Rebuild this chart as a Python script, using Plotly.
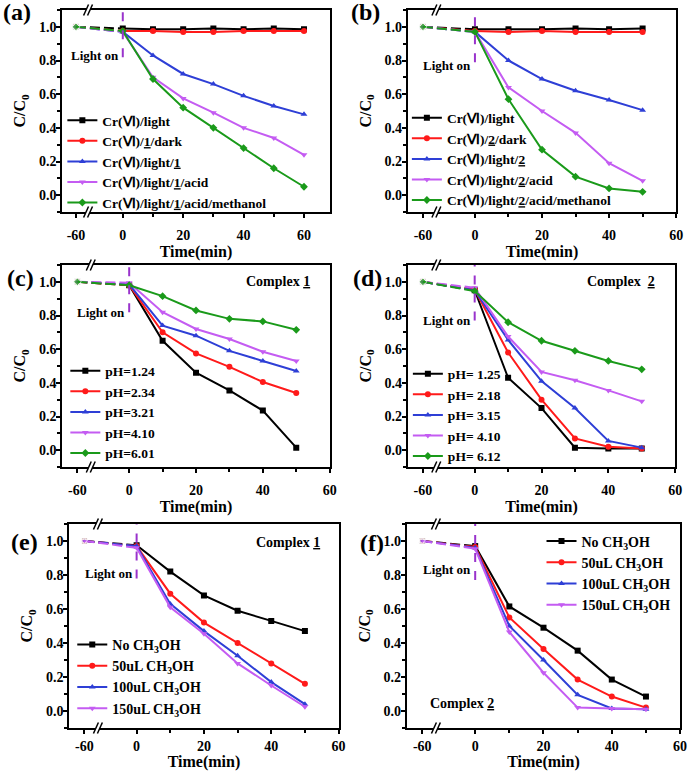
import plotly.graph_objects as go

W, H = 698, 771
FONT = "Liberation Serif, Times New Roman, serif"

# ---------------- data ----------------
TIME_A = [-60, 0, 10, 20, 30, 40, 50, 60]
TIME = [-60, 0, 10, 20, 30, 40, 50]
X_TICK_LABELS = ["-60", "0", "20", "40", "60"]

# (a) complex 1
A_LIGHT = [1.0, 0.99, 0.985, 0.985, 0.99, 0.985, 0.99, 0.985]
A_DARK = [1.0, 0.975, 0.975, 0.97, 0.97, 0.975, 0.975, 0.975]
A_LIGHT_CAT = [1.0, 0.97, 0.83, 0.72, 0.66, 0.59, 0.53, 0.48]
A_ACID = [1.0, 0.97, 0.70, 0.575, 0.49, 0.40, 0.34, 0.24]
A_METHANOL = [1.0, 0.975, 0.69, 0.52, 0.40, 0.28, 0.16, 0.05]
A_NAMES = ["Cr(Ⅵ)/light", "Cr(Ⅵ)/<u>1</u>/dark", "Cr(Ⅵ)/light/<u>1</u>",
           "Cr(Ⅵ)/light/<u>1</u>/acid", "Cr(Ⅵ)/light/<u>1</u>/acid/methanol"]

# (b) complex 2
B_LIGHT = [1.0, 0.985, 0.985, 0.985, 0.99, 0.985, 0.99]
B_DARK = [1.0, 0.975, 0.97, 0.975, 0.97, 0.97, 0.97]
B_LIGHT_CAT = [1.0, 0.97, 0.80, 0.69, 0.62, 0.565, 0.505]
B_ACID = [1.0, 0.97, 0.64, 0.50, 0.37, 0.19, 0.085]
B_METHANOL = [1.0, 0.97, 0.57, 0.27, 0.11, 0.04, 0.02]
B_NAMES = ["Cr(Ⅵ)/light", "Cr(Ⅵ)/<u>2</u>/dark", "Cr(Ⅵ)/light/<u>2</u>",
           "Cr(Ⅵ)/light/<u>2</u>/acid", "Cr(Ⅵ)/light/<u>2</u>/acid/methanol"]

# (c) complex 1, pH
C_PH124 = [1.0, 0.98, 0.65, 0.46, 0.355, 0.235, 0.015]
C_PH234 = [1.0, 0.98, 0.70, 0.575, 0.495, 0.405, 0.34]
C_PH321 = [1.0, 0.985, 0.74, 0.68, 0.59, 0.53, 0.47]
C_PH410 = [1.0, 0.995, 0.82, 0.72, 0.66, 0.585, 0.53]
C_PH601 = [1.0, 0.98, 0.915, 0.83, 0.78, 0.765, 0.715]
C_NAMES = ["pH=1.24", "pH=2.34", "pH=3.21", "pH=4.10", "pH=6.01"]

# (d) complex 2, pH
D_PH125 = [1.0, 0.95, 0.43, 0.25, 0.015, 0.01, 0.01]
D_PH218 = [1.0, 0.955, 0.58, 0.30, 0.07, 0.02, 0.01]
D_PH315 = [1.0, 0.95, 0.655, 0.41, 0.25, 0.055, 0.015]
D_PH410 = [1.0, 0.965, 0.675, 0.465, 0.415, 0.355, 0.29]
D_PH612 = [1.0, 0.945, 0.76, 0.65, 0.59, 0.53, 0.48]
D_NAMES = ["pH= 1.25", "pH= 2.18", "pH= 3.15", "pH= 4.10", "pH= 6.12"]

# (e) complex 1, methanol
E_NO = [1.0, 0.975, 0.82, 0.68, 0.59, 0.53, 0.47]
E_50 = [1.0, 0.97, 0.69, 0.52, 0.40, 0.28, 0.16]
E_100 = [1.0, 0.97, 0.63, 0.47, 0.325, 0.17, 0.04]
E_150 = [1.0, 0.96, 0.61, 0.455, 0.28, 0.15, 0.025]
E_NAMES = ["No CH<sub>3</sub>OH", "50uL CH<sub>3</sub>OH",
           "100uL CH<sub>3</sub>OH", "150uL CH<sub>3</sub>OH"]

# (f) complex 2, methanol
F_NO = [1.0, 0.97, 0.615, 0.49, 0.355, 0.185, 0.085]
F_50 = [1.0, 0.965, 0.55, 0.365, 0.185, 0.085, 0.02]
F_100 = [1.0, 0.96, 0.50, 0.30, 0.095, 0.015, 0.01]
F_150 = [1.0, 0.955, 0.465, 0.225, 0.02, 0.015, 0.01]
F_NAMES = E_NAMES

# ---------------- styles ----------------
COLORS = ["#000000", "#FF1A1A", "#2E3FD6", "#C45CF2", "#1A9A1A"]
SYMBOLS = ["square", "circle", "triangle-up", "triangle-down", "diamond"]
PURPLE = "#9933CC"

BREAK_POS = -15.5   # plotted position of t = -60 on the broken axis
BREAK_MARK = -11.5  # position of the // break symbol


def xpos(t):
    return t if t >= 0 else t * (-BREAK_POS) / 60.0


panels = [
    dict(label="(a)", t=TIME_A, series=[A_LIGHT, A_DARK, A_LIGHT_CAT, A_ACID, A_METHANOL], names=A_NAMES,
         box=(63, 10, 333, 212), xr=[-20, 68.5], leg=(63, 161.5, 13.5), light=0.83, vend=0.82,
         lab=(17, 12), complex=None, xso=5),
    dict(label="(b)", t=TIME, series=[B_LIGHT, B_DARK, B_LIGHT_CAT, B_ACID, B_METHANOL], names=B_NAMES,
         box=(412, 10, 683, 212), xr=[-20, 60], leg=(411, 159, 13.5), light=0.77, vend=0.79,
         lab=(369, 12), complex=None, xso=5),
    dict(label="(c)", t=TIME, series=[C_PH124, C_PH234, C_PH321, C_PH410, C_PH601], names=C_NAMES,
         box=(63, 265, 333, 467), xr=[-20, 60], leg=(66, 412, 13.5), light=0.82, vend=0.82,
         lab=(21, 278), complex=("Complex <u>1</u>", 0.935, 1.0, "right"), xso=5),
    dict(label="(d)", t=TIME, series=[D_PH125, D_PH218, D_PH315, D_PH410, D_PH612], names=D_NAMES,
         box=(412, 265, 682, 467), xr=[-20, 60], leg=(412, 415, 13.5), light=0.77, vend=0.77,
         lab=(371, 278), complex=("Complex  <u>2</u>", 0.933, 1.0, "right"), xso=5),
    dict(label="(e)", t=TIME, series=[E_NO, E_50, E_100, E_150], names=E_NAMES,
         box=(70, 524, 342, 728), xr=[-20, 60], leg=(73, 676.5, 14), light=0.81, vend=0.78,
         lab=(25, 542), complex=("Complex <u>1</u>", 0.938, 0.99, "right"), xso=0),
    dict(label="(f)", t=TIME, series=[F_NO, F_50, F_100, F_150], names=F_NAMES,
         box=(411, 524, 687, 728), xr=[-20, 60], leg=(547, 573, 14), light=0.83, vend=0.77,
         lab=(376, 543), complex=("Complex <u>2</u>", 0.076, 0.045, "left"), xso=0),
]

fig = go.Figure()
shapes = []
annotations = []
layout = {}

tickfont = dict(family=FONT, size=14, color="black", weight="bold")
titlefont = dict(family=FONT, size=16, color="black", weight="bold")

for i, p in enumerate(panels):
    n = i + 1
    sfx = "" if n == 1 else str(n)
    xr_, yr_ = "x" + sfx, "y" + sfx
    leg_key = "legend" + sfx
    l, t, r, b = p["box"]
    pw, ph = r - l, b - t

    for k, vals in enumerate(p["series"]):
        tt = p["t"]
        pre_x = [xpos(tt[0]), xpos(tt[1])]
        pre_y = [vals[0], vals[1]]
        fig.add_trace(go.Scatter(
            x=pre_x, y=pre_y, mode="lines+markers", xaxis=xr_, yaxis=yr_,
            line=dict(color=COLORS[k], width=2, dash="10px,4px"),
            marker=dict(symbol=SYMBOLS[k], size=[6, 0], color=COLORS[k]),
            showlegend=False, hoverinfo="skip"))
        fig.add_trace(go.Scatter(
            x=[xpos(v) for v in tt[1:]], y=vals[1:], mode="lines+markers",
            xaxis=xr_, yaxis=yr_, name=p["names"][k], legend=leg_key,
            line=dict(color=COLORS[k], width=2),
            marker=dict(symbol=SYMBOLS[k], size=6, color=COLORS[k])))

    layout["xaxis" + sfx] = dict(
        domain=[l / W, r / W], range=p["xr"], anchor=yr_,
        showline=True, linewidth=2, linecolor="black", mirror=True,
        ticks="outside", ticklen=4, tickwidth=2, tickcolor="black",
        ticklabelstandoff=p["xso"],
        tickmode="array", tickvals=[xpos(-60), 0, 20, 40, 60], ticktext=X_TICK_LABELS,
        minor=dict(tickmode="array", tickvals=[10, 30, 50], ticks="outside",
                   ticklen=3, tickwidth=2, tickcolor="black"),
        showgrid=False, zeroline=False, tickfont=tickfont,
        title=dict(text="Time(min)", font=titlefont, standoff=0))
    layout["yaxis" + sfx] = dict(
        domain=[1 - b / H, 1 - t / H], range=[-0.1, 1.1], anchor=xr_,
        showline=True, linewidth=2, linecolor="black", mirror=True,
        ticks="outside", ticklen=4, tickwidth=2, tickcolor="black",
        ticklabelstandoff=-3,
        tickmode="linear", tick0=0, dtick=0.2, tickformat=".1f",
        minor=dict(dtick=0.1, tick0=0, ticks="outside", ticklen=3, tickwidth=2, tickcolor="black"),
        showgrid=False, zeroline=False, tickfont=tickfont,
        title=dict(text="C/C<sub>0</sub>", font=titlefont, standoff=9))

    lx, ly, lfs = p["leg"]
    layout[leg_key] = dict(
        x=lx / W, y=1 - ly / H, xanchor="left", yanchor="middle",
        xref="paper", yref="paper", bgcolor="rgba(0,0,0,0)", borderwidth=0,
        font=dict(family=FONT, size=lfs, color="black", weight="bold"),
        itemwidth=30, tracegroupgap=0)

    # light-on marker
    shapes.append(dict(type="line", xref=xr_, yref=yr_, x0=0, x1=0, y0=p["vend"], y1=1.1,
                       line=dict(color=PURPLE, width=2, dash="dash"), layer="above"))
    annotations.append(dict(text="Light on", xref=xr_, yref=yr_, x=0, y=p["light"],
                            xanchor="right", yanchor="middle", xshift=-2, showarrow=False,
                            font=dict(family=FONT, size=13, color="black", weight="bold")))
    # broken axis marks
    xd = (BREAK_MARK - p["xr"][0]) / (p["xr"][1] - p["xr"][0])
    dxs = 2.5 / pw   # half horizontal extent of a slash
    dys = 5.5 / ph   # half vertical extent
    gap = 4.0 / pw
    for yd in (0.0, 1.0):
        x1c, x2c = xd - gap / 2, xd + gap / 2
        poly = (f"M{x1c - dxs},{yd - dys} L{x2c - dxs},{yd - dys} "
                f"L{x2c + dxs},{yd + dys} L{x1c + dxs},{yd + dys} Z")
        shapes.append(dict(type="path", xref=xr_ + " domain", yref=yr_ + " domain", path=poly,
                           fillcolor="white", line=dict(width=0), layer="above"))
        for xc in (x1c, x2c):
            shapes.append(dict(type="line", xref=xr_ + " domain", yref=yr_ + " domain",
                               x0=xc - dxs, y0=yd - dys, x1=xc + dxs, y1=yd + dys,
                               line=dict(color="black", width=1.5), layer="above"))
    # panel label
    annotations.append(dict(text=p["label"], xref="paper", yref="paper",
                            x=p["lab"][0] / W, y=1 - p["lab"][1] / H,
                            xanchor="center", yanchor="middle", showarrow=False,
                            font=dict(family=FONT, size=24, color="black", weight="bold")))
    if p["complex"]:
        txt, cx, cy, anc = p["complex"]
        annotations.append(dict(text=txt, xref=xr_ + " domain", yref=yr_, x=cx, y=cy,
                                xanchor=anc, yanchor="middle", showarrow=False,
                                font=dict(family=FONT, size=14, color="black", weight="bold")))

fig.update_layout(
    width=W, height=H, margin=dict(l=0, r=0, t=0, b=0),
    paper_bgcolor="white", plot_bgcolor="white",
    shapes=shapes, annotations=annotations, **layout)

fig.write_html("out.html", config={"displayModeBar": False},
               post_script="document.body.style.margin='0';document.body.style.overflow='hidden';")
